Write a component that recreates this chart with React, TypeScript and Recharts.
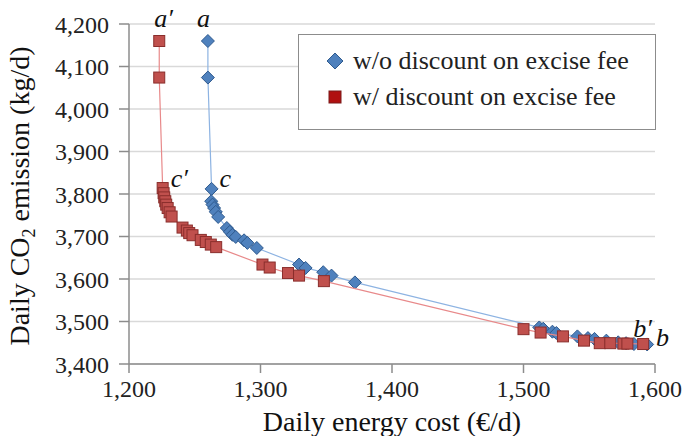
import React from 'react';
import { ScatterChart, Scatter, XAxis, YAxis, CartesianGrid, ReferenceDot } from 'recharts';

// energy cost (€/d) and CO2 emission (kg/d) per Pareto point
const noDiscountCost = [1260, 1260, 1262.8, 1262.5, 1263.5, 1264.7, 1266, 1267.8, 1274.4, 1276.7, 1278.7, 1281.2, 1287.5, 1290, 1297.2, 1329.3, 1334.3, 1347.7, 1354, 1371.8, 1512, 1515, 1522, 1525, 1541, 1549, 1554, 1563, 1572, 1578, 1584, 1594];
const noDiscountCo2 = [4160, 4074, 3812, 3783, 3775, 3767, 3758, 3746, 3720, 3711, 3704, 3699, 3691, 3685, 3673, 3634, 3626, 3616, 3608, 3592, 3486, 3483, 3476, 3473, 3465, 3461, 3459, 3455, 3451, 3449, 3447, 3446];

const discountCost = [1223, 1223, 1225.6, 1226.3, 1226.8, 1227.6, 1228.3, 1229.4, 1230.9, 1232.4, 1240.7, 1244, 1245.8, 1248.3, 1254.6, 1258.4, 1262.2, 1266.3, 1301.5, 1307, 1320.9, 1329.3, 1348.2, 1500, 1513, 1530, 1546, 1558, 1566, 1576, 1579, 1591];
const discountCo2 = [4160, 4074, 3814, 3802, 3792, 3783, 3775, 3767, 3757, 3747, 3721, 3714, 3708, 3703, 3692, 3687, 3681, 3675, 3634, 3627, 3614, 3608, 3595, 3482, 3474, 3465, 3455, 3449, 3449, 3448, 3448, 3447];

const xTicks = [1200, 1300, 1400, 1500, 1600];
const yTicks = [3400, 3500, 3600, 3700, 3800, 3900, 4000, 4100, 4200];

const seriesNames = ['w/o discount on excise fee', 'w/ discount on excise fee'];

// point labels: anchor point + text offset
const annotations = [
  { x: 1223, y: 4160, text: 'a\u2032', dx: -5, dy: -14 },
  { x: 1260, y: 4160, text: 'a', dx: -11, dy: -14 },
  { x: 1225.6, y: 3814, text: 'c\u2032', dx: 8, dy: -1 },
  { x: 1262.8, y: 3812, text: 'c', dx: 8, dy: -2 },
  { x: 1591, y: 3447, text: 'b\u2032', dx: -10, dy: -7 },
  { x: 1594, y: 3446, text: 'b', dx: 9, dy: 2 },
];

const noDiscount = noDiscountCost.map((c, i) => ({ cost: c, co2: noDiscountCo2[i] }));
const discount = discountCost.map((c, i) => ({ cost: c, co2: discountCo2[i] }));

const FONT = 'Liberation Serif, Tinos, DejaVu Serif, serif';
const BLUE = '#4f81bd';
const BLUE_EDGE = '#2f5a8e';
const RED = '#c0504d';
const RED_EDGE = '#8a2e2c';

const Diamond = (props: any) => {
  const { cx, cy } = props;
  const r = 6.5;
  return <path d={`M${cx},${cy - r}L${cx + r},${cy}L${cx},${cy + r}L${cx - r},${cy}Z`} fill={BLUE} stroke={BLUE_EDGE} strokeWidth={1} />;
};

const Square = (props: any) => {
  const { cx, cy } = props;
  const h = 5.5;
  return <rect x={cx - h} y={cy - h} width={h * 2} height={h * 2} fill={RED} stroke={RED_EDGE} strokeWidth={1} />;
};

const LegendBox = () => (
  <div style={{ position: 'absolute', left: 298, top: 34, boxSizing: 'border-box', width: 358, height: 96, border: '1.5px solid #8c8c8c', background: '#fff', fontFamily: FONT, fontSize: 26, color: '#222', paddingTop: 8 }}>
    {seriesNames.map((name, i) => (
      <div key={name} style={{ display: 'flex', alignItems: 'center', height: 36, paddingLeft: 26, whiteSpace: 'nowrap' }}>
        <svg width={20} height={20} style={{ marginRight: 8 }}>
          {i === 0
            ? <path d="M10,2L18,10L10,18L2,10Z" fill={BLUE} stroke={BLUE_EDGE} strokeWidth={1} />
            : <rect x={4} y={4} width={12} height={12} fill="#b01010" stroke="#7a1a1a" strokeWidth={1} />}
        </svg>
        <span>{name}</span>
      </div>
    ))}
  </div>
);

const YTitle = () => (
  <text transform="translate(29,196) rotate(-90)" textAnchor="middle" fontFamily={FONT} fontSize={28} fill="#111">
    Daily CO<tspan dy={6} fontSize={18}>2</tspan><tspan dy={-6}> emission (kg/d)</tspan>
  </text>
);

const XTitle = () => (
  <text x={392} y={431} textAnchor="middle" fontFamily={FONT} fontSize={28} fill="#111">
    Daily energy cost (€/d)
  </text>
);

const App: React.FC = () => {
  return (
    <div style={{ position: 'relative', width: 683, height: 436 }}>
      <style>{'body{margin:0;}'}</style>
      <ScatterChart width={683} height={436} margin={{ top: 24, right: 28, bottom: 0, left: 0 }}>
        <CartesianGrid vertical={false} stroke="#d9d9d9" strokeWidth={1.5} />
        <XAxis
          type="number"
          dataKey="cost"
          domain={[1200, 1600]}
          ticks={xTicks}
          interval={0}
          height={72}
          tickSize={9}
          tickMargin={7}
          tickFormatter={(v) => v.toLocaleString('en-US')}
          tick={{ fontFamily: FONT, fontSize: 24, fill: '#222' }}
          stroke="#8c8c8c"
          strokeWidth={1.5}
          label={<XTitle />}
        />
        <YAxis
          type="number"
          dataKey="co2"
          domain={[3400, 4200]}
          ticks={yTicks}
          interval={0}
          width={129}
          tickSize={10}
          tickMargin={10}
          tickFormatter={(v) => v.toLocaleString('en-US')}
          tick={{ fontFamily: FONT, fontSize: 24, fill: '#222' }}
          stroke="#8c8c8c"
          strokeWidth={1.5}
          label={<YTitle />}
        />
        <Scatter
          name={seriesNames[0]}
          data={noDiscount}
          line={{ stroke: '#8db3e2', strokeWidth: 1.2 }}
          shape={Diamond}
          isAnimationActive={false}
        />
        <Scatter
          name={seriesNames[1]}
          data={discount}
          line={{ stroke: '#e8898a', strokeWidth: 1.2 }}
          shape={Square}
          isAnimationActive={false}
        />
        {annotations.map((a) => (
          <ReferenceDot
            key={a.text}
            x={a.x}
            y={a.y}
            r={0}
            ifOverflow="visible"
            label={(p: any) => {
              const vb = p.viewBox || {};
              const x = (vb.x ?? 0) + (vb.width ?? 0) / 2 + a.dx;
              const y = (vb.y ?? 0) + (vb.height ?? 0) / 2 + a.dy;
              return (
                <text x={x} y={y} fontFamily={FONT} fontStyle="italic" fontSize={26} fill="#111">
                  {a.text}
                </text>
              );
            }}
          />
        ))}
      </ScatterChart>
      <LegendBox />
    </div>
  );
};

export default App;
